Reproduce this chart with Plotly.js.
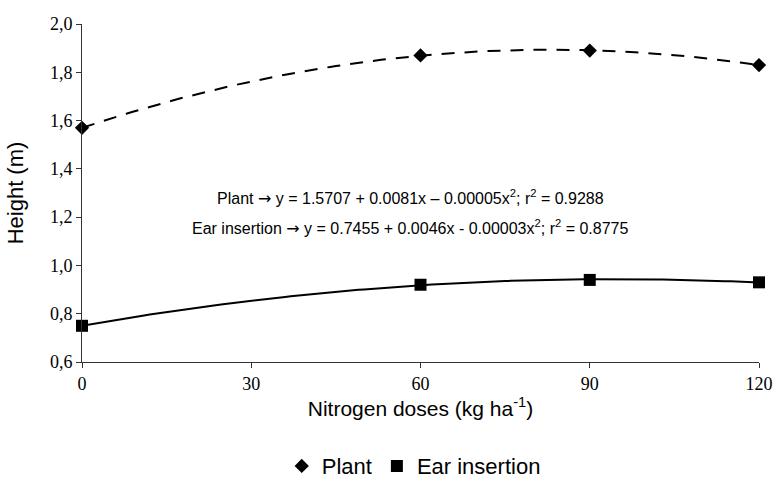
<!DOCTYPE html>
<html>
<head>
<meta charset="utf-8">
<script src="https://cdn.plot.ly/plotly-3.0.1.min.js"></script>
<style>html,body{margin:0;padding:0;background:#fff;}#chart{width:775px;height:479px;}</style>
</head>
<body>
<div id="chart"></div>
<script>
// Data
const doses = [0, 60, 90, 120];
const plantHeight = [1.57, 1.87, 1.89, 1.83];
const earHeight = [0.75, 0.92, 0.94, 0.93];
const xTicks = [0, 30, 60, 90, 120];
const yTicks = [0.6, 0.8, 1.0, 1.2, 1.4, 1.6, 1.8, 2.0];
const eqPlant = 'Plant <span style="font-family:DejaVu Sans">\u2192</span> y = 1.5707 + 0.0081x \u2013 0.00005x<sup>2</sup>; r<sup>2</sup> = 0.9288';
const eqEar = 'Ear insertion <span style="font-family:DejaVu Sans">\u2192</span> y = 0.7455 + 0.0046x - 0.00003x<sup>2</sup>; r<sup>2</sup> = 0.8775';

// Least-squares quadratic trendline (like a spreadsheet polynomial trendline)
function quadFit(xs, ys) {
  let S = [0,0,0,0,0], T = [0,0,0];
  for (let i = 0; i < xs.length; i++) {
    let p = 1;
    for (let k = 0; k < 5; k++) { S[k] += p; if (k < 3) T[k] += p * ys[i]; p *= xs[i]; }
  }
  const A = [[S[0],S[1],S[2],T[0]],[S[1],S[2],S[3],T[1]],[S[2],S[3],S[4],T[2]]];
  for (let c = 0; c < 3; c++) {
    for (let r = c + 1; r < 3; r++) {
      const f = A[r][c] / A[c][c];
      for (let k = c; k < 4; k++) A[r][k] -= f * A[c][k];
    }
  }
  const b = [0,0,0];
  for (let r = 2; r >= 0; r--) {
    let s = A[r][3];
    for (let k = r + 1; k < 3; k++) s -= A[r][k] * b[k];
    b[r] = s / A[r][r];
  }
  return b;
}
function trend(xs, ys) {
  const b = quadFit(xs, ys);
  const lo = Math.min(...xs), hi = Math.max(...xs);
  const tx = [], ty = [];
  for (let i = 0; i <= 120; i++) {
    const x = lo + (hi - lo) * i / 120;
    tx.push(x); ty.push(b[0] + b[1] * x + b[2] * x * x);
  }
  return {x: tx, y: ty};
}
const tp = trend(doses, plantHeight);
const te = trend(doses, earHeight);

const SANS = 'Liberation Sans';
const SERIF = 'Liberation Serif';

const traces = [
  {x: tp.x, y: tp.y, mode: 'lines', line: {color: '#000', width: 2, dash: '13px,10px'}, showlegend: false, hoverinfo: 'skip'},
  {x: te.x, y: te.y, mode: 'lines', line: {color: '#000', width: 2}, showlegend: false, hoverinfo: 'skip'},
  {x: doses, y: plantHeight, name: 'Plant', mode: 'markers', marker: {symbol: 'diamond', size: 11, color: '#000'}, cliponaxis: false},
  {x: doses, y: earHeight, name: 'Ear insertion', mode: 'markers', marker: {symbol: 'square', size: 12, color: '#000'}, cliponaxis: false}
];

const layout = {
  width: 775, height: 479,
  margin: {l: 82, r: 16, t: 24, b: 117, autoexpand: false},
  paper_bgcolor: '#fff', plot_bgcolor: '#fff',
  separators: ',.',
  showlegend: true,
  legend: {orientation: 'h', x: 0.49, xanchor: 'center', y: -0.308, yanchor: 'middle',
           font: {family: SANS, size: 22, color: '#000'}},
  xaxis: {
    range: [0, 120], tickvals: xTicks, ticktext: xTicks.map(String),
    showgrid: false, zeroline: false, showline: true, linecolor: '#333', linewidth: 1,
    ticks: 'outside', ticklen: 5, tickcolor: '#333',
    tickfont: {family: SERIF, size: 18, color: '#000'},
    title: {text: 'Nitrogen doses (kg ha<sup>-1</sup>)', standoff: 8,
            font: {family: SANS, size: 21, color: '#000'}}
  },
  yaxis: {
    range: [0.6, 2.0], tickvals: yTicks, tickformat: '.1f',
    showgrid: false, zeroline: false, showline: true, linecolor: '#333', linewidth: 1,
    ticks: 'outside', ticklen: 5, tickcolor: '#333',
    tickfont: {family: SERIF, size: 18, color: '#000'},
    title: {text: 'Height (m)', standoff: 20,
            font: {family: SANS, size: 22, color: '#000'}}
  },
  annotations: [
    {x: 0.4845, y: 1.282, xref: 'paper', yref: 'y', text: eqPlant, showarrow: false, xanchor: 'center', yanchor: 'middle',
     font: {family: SANS, size: 16, color: '#000'}},
    {x: 0.4845, y: 1.158, xref: 'paper', yref: 'y', text: eqEar, showarrow: false, xanchor: 'center', yanchor: 'middle',
     font: {family: SANS, size: 16, color: '#000'}}
  ]
};

Plotly.newPlot('chart', traces, layout, {displayModeBar: false, staticPlot: true});
</script>
</body>
</html>
